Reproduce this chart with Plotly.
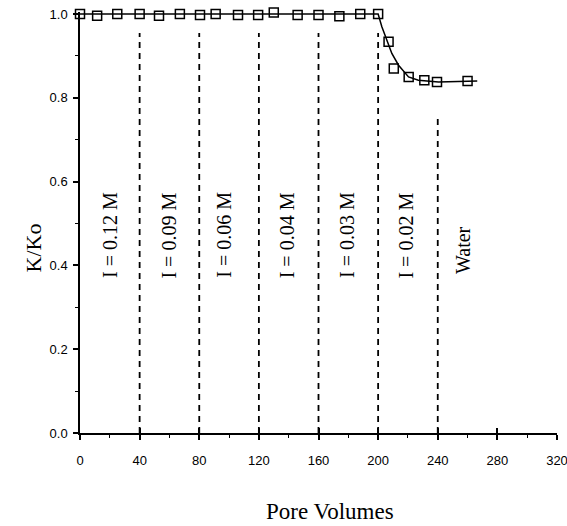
import plotly.graph_objects as go

# Measured data (K/Ko vs pore volumes)
pv = [0, 11.5, 25, 40, 53, 67, 80.5, 91, 106, 119.5, 130, 146, 160, 174, 188, 200,
      207, 210.5, 220.5, 231, 239.5, 260]
kko = [1.0, 0.996, 1.0, 1.0, 0.996, 1.0, 0.998, 1.0, 0.998, 0.998, 1.004, 0.998,
       0.998, 0.995, 1.0, 1.0, 0.934, 0.870, 0.850, 0.842, 0.838, 0.840]

# Fitted curve
curve_x = [0, 200, 202.5, 206.4, 209.2, 213.7, 220.4, 227, 240.5, 266.5]
curve_y = [1.0, 1.0, 0.970, 0.934, 0.906, 0.878, 0.850, 0.842, 0.838, 0.840]

# Ionic-strength change boundaries
bound_x = [40, 80, 120, 160, 200, 240]
bound_top = [0.955, 0.955, 0.955, 0.955, 0.955, 0.755]

# Region labels
label_text = ["I = 0.12 M", "I = 0.09 M", "I = 0.06 M", "I = 0.04 M",
              "I = 0.03 M", "I = 0.02 M", "Water"]
label_x = [20, 60, 97, 139, 179, 219, 257]
label_y = [0.365, 0.365, 0.365, 0.365, 0.365, 0.365, 0.375]

x_ticks = [0, 40, 80, 120, 160, 200, 240, 280, 320]
y_ticks = [0.0, 0.2, 0.4, 0.6, 0.8, 1.0]

dx, dy = [], []
for bx, bt in zip(bound_x, bound_top):
    dx += [bx, bx, None]
    dy += [0, bt, None]

fig = go.Figure()
fig.add_trace(go.Scatter(x=dx, y=dy, mode="lines",
                         line=dict(color="black", width=1.8, dash="6px,5px"),
                         hoverinfo="skip", showlegend=False))
fig.add_trace(go.Scatter(x=curve_x, y=curve_y, mode="lines",
                         line=dict(color="black", width=1.5),
                         cliponaxis=False, showlegend=False))
fig.add_trace(go.Scatter(x=pv, y=kko, mode="markers",
                         marker=dict(symbol="square-open", size=9, color="black",
                                     line=dict(width=1.5, color="black")),
                         cliponaxis=False, showlegend=False))
# dummy trace for inside tick overlay axis
fig.add_trace(go.Scatter(x=[None], y=[None], xaxis="x2", showlegend=False,
                         hoverinfo="skip"))

tickfont = dict(family="Liberation Sans, Arial, sans-serif", size=13, color="black")
serif = "Liberation Serif, Times New Roman, serif"

for t, xv, yv in zip(label_text, label_x, label_y):
    fig.add_annotation(x=xv, y=yv, xref="x", yref="y", text=t, textangle=-90,
                       showarrow=False, xanchor="center", yanchor="bottom",
                       font=dict(family=serif, size=20, color="black"))

fig.add_annotation(x=0.5236, y=-0.1876, xref="paper", yref="paper", text="Pore Volumes",
                   showarrow=False, xanchor="center", yanchor="middle",
                   font=dict(family=serif, size=23, color="black"))
fig.add_annotation(x=-0.0976, y=0.4394, xref="paper", yref="paper", text="K/Ko",
                   textangle=-90, showarrow=False, xanchor="center", yanchor="middle",
                   font=dict(family=serif, size=22, color="black"))

fig.update_layout(
    width=567, height=526,
    margin=dict(l=80, r=10, t=12, b=93, autoexpand=False),
    paper_bgcolor="white", plot_bgcolor="white",
    showlegend=False,
    xaxis=dict(range=[0, 320], tickvals=x_ticks, ticktext=[str(v) for v in x_ticks],
               showgrid=False, zeroline=False, showline=True, linecolor="black",
               linewidth=1.5, ticks="outside", ticklen=5, tickwidth=1.5,
               tickcolor="black", tickfont=tickfont, ticklabelstandoff=10,
               ticklabeloverflow="allow",
               minor=dict(dtick=20, tick0=0, ticks="outside", ticklen=3,
                          tickwidth=1.2, tickcolor="black")),
    xaxis2=dict(range=[0, 320], overlaying="x", anchor="y", side="bottom",
                tickvals=x_ticks, showticklabels=False, showgrid=False,
                zeroline=False, showline=False, ticks="inside", ticklen=5,
                tickwidth=1.5, tickcolor="black"),
    yaxis=dict(range=[0, 1.005], tickvals=y_ticks, ticktext=[f"{v:.1f}" for v in y_ticks],
               showgrid=False, zeroline=False, showline=True, linecolor="black",
               linewidth=1.5, ticks="outside", ticklen=5, tickwidth=1.5,
               tickcolor="black", tickfont=tickfont, ticklabelstandoff=3,
               ticklabeloverflow="allow",
               minor=dict(dtick=0.1, tick0=0, ticks="outside", ticklen=3,
                          tickwidth=1.2, tickcolor="black")),
)

# Remove the default page margin so the 567x526 figure fills the window exactly.
fig.write_html("out.html", config={"displayModeBar": False},
               post_script="document.body.style.margin='0';document.body.style.overflow='hidden';")
